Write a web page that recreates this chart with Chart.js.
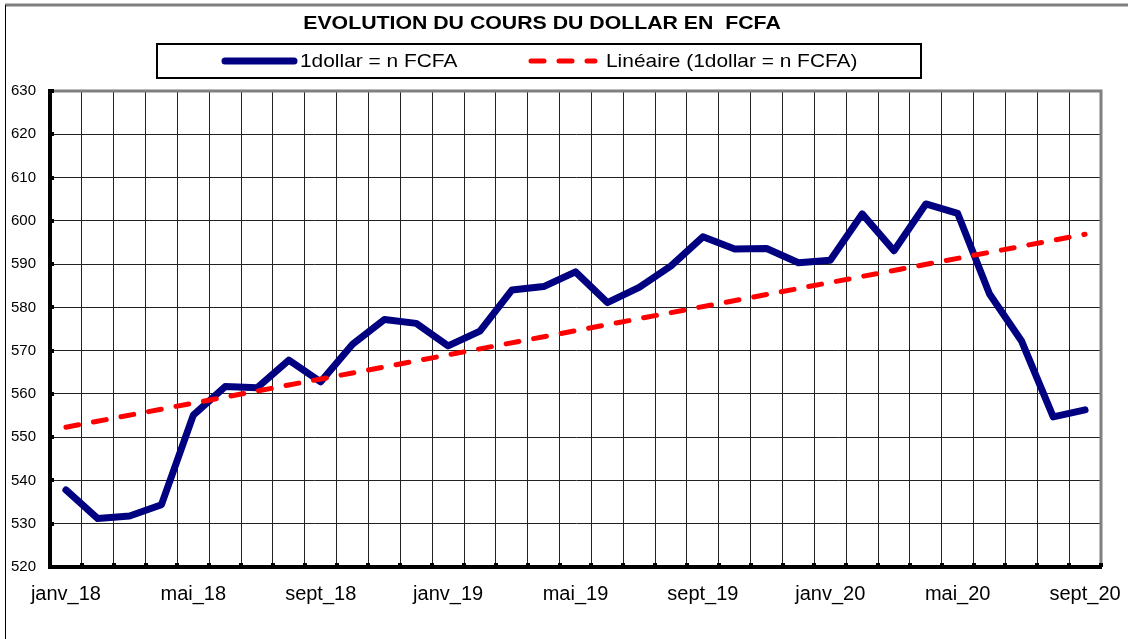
<!DOCTYPE html>
<html>
<head>
<meta charset="utf-8">
<script src="https://cdn.jsdelivr.net/npm/chart.js@4"></script>
<style>
    html, body { margin: 0; padding: 0; background: #fff; }
    #wrap { width: 1128px; height: 639px; position: relative; }
</style>
</head>
<body>
<div id="wrap"><canvas id="dollar"></canvas></div>
<script>
// Months, janv_18 .. sept_20
const MONTHS = [
    'janv_18', 'févr_18', 'mars_18', 'avr_18', 'mai_18', 'juin_18',
    'juil_18', 'août_18', 'sept_18', 'oct_18', 'nov_18', 'déc_18',
    'janv_19', 'févr_19', 'mars_19', 'avr_19', 'mai_19', 'juin_19',
    'juil_19', 'août_19', 'sept_19', 'oct_19', 'nov_19', 'déc_19',
    'janv_20', 'févr_20', 'mars_20', 'avr_20', 'mai_20', 'juin_20',
    'juil_20', 'août_20', 'sept_20'
];

// 1 dollar = n FCFA
const RATE = [
    537.8, 531.2, 531.8, 534.4, 555.1, 561.7, 561.4, 567.8, 562.8,
    571.5, 577.2, 576.3, 571.1, 574.5, 584.0, 584.8, 588.2, 581.1,
    584.6, 589.6, 596.3, 593.5, 593.6, 590.3, 590.9, 601.6, 593.1,
    603.9, 601.7, 583.1, 572.3, 554.7, 556.3
];

// Linear trend, end points
const TREND_MONTHS = ['janv_18', 'sept_20'];
const TREND_VALUES = [552.3, 596.9];

const Y_MIN = 520;
const Y_MAX = 630;
const Y_STEP = 10;

const TITLE = 'EVOLUTION DU COURS DU DOLLAR EN  FCFA';
const SERIES_NAME = '1dollar = n FCFA';
const TREND_NAME = 'Linéaire (1dollar = n FCFA)';

const NAVY = '#000080';
const RED  = '#FF0000';
const FONT = "'Liberation Sans', Arial, sans-serif";

// frame, title, legend box, gray top/right plot border, inside tick marks
const decor = {
    id: 'decor',
    beforeDatasetsDraw(chart) {
        const ctx = chart.ctx;
        const a = chart.chartArea;
        ctx.save();
        // gray top + right border of plot area
        ctx.strokeStyle = '#808080';
        ctx.lineWidth = 3;
        ctx.beginPath();
        ctx.moveTo(a.left, a.top);
        ctx.lineTo(a.right, a.top);
        ctx.lineTo(a.right, a.bottom);
        ctx.stroke();

        // little tick marks on the inner side of the axes
        ctx.strokeStyle = '#000';
        ctx.lineWidth = 4;
        const xs = chart.scales.x;
        const half = (xs.getPixelForValue(1) - xs.getPixelForValue(0)) / 2;
        ctx.beginPath();
        for (let i = 0; i <= MONTHS.length; i++) {
            const px = Math.round(xs.getPixelForValue(i) - half);
            ctx.moveTo(px, a.bottom);
            ctx.lineTo(px, a.bottom - 4);
        }
        const ys = chart.scales.y;
        for (let v = Y_MIN; v <= Y_MAX; v += Y_STEP) {
            const py = Math.round(ys.getPixelForValue(v));
            ctx.moveTo(a.left, py);
            ctx.lineTo(a.left + 4, py);
        }
        ctx.stroke();
        ctx.restore();
    },
    afterDraw(chart) {
        const ctx = chart.ctx;
        ctx.save();
        // outer frame
        ctx.strokeStyle = '#808080';
        ctx.lineWidth = 3;
        ctx.beginPath();
        ctx.moveTo(5, 5);
        ctx.lineTo(1128, 5);
        ctx.stroke();
        ctx.strokeStyle = '#000';
        ctx.lineWidth = 1;
        ctx.beginPath();
        ctx.moveTo(5.5, 5);
        ctx.lineTo(5.5, 639);
        ctx.stroke();

        // title
        ctx.fillStyle = '#000';
        ctx.textBaseline = 'middle';
        ctx.textAlign = 'center';
        ctx.font = 'bold 19px ' + FONT;
        ctx.save();
        ctx.translate(542, 24);
        ctx.scale(1.12, 1);
        ctx.fillText(TITLE, 0, 0);
        ctx.restore();

        // legend box
        ctx.lineWidth = 2;
        ctx.strokeStyle = '#000';
        ctx.strokeRect(157, 44, 764, 34);

        ctx.lineCap = 'round';
        ctx.strokeStyle = NAVY;
        ctx.lineWidth = 7;
        ctx.beginPath();
        ctx.moveTo(225, 61);
        ctx.lineTo(294, 61);
        ctx.stroke();

        ctx.strokeStyle = RED;
        ctx.lineWidth = 5;
        ctx.setLineDash([13, 15]);
        ctx.beginPath();
        ctx.moveTo(531, 61);
        ctx.lineTo(595, 61);
        ctx.stroke();
        ctx.setLineDash([]);

        ctx.textAlign = 'left';
        ctx.font = '19px ' + FONT;
        ctx.save();
        ctx.translate(300, 62);
        ctx.scale(1.1, 1);
        ctx.fillText(SERIES_NAME, 0, 0);
        ctx.restore();
        ctx.save();
        ctx.translate(606, 62);
        ctx.scale(1.1, 1);
        ctx.fillText(TREND_NAME, 0, 0);
        ctx.restore();
        ctx.restore();
    }
};

window.onload = () => {
    new Chart(document.getElementById('dollar'), {
        type: 'line',
        data: {
            labels: MONTHS,
            datasets: [
                {
                    label: SERIES_NAME,
                    data: RATE,
                    borderColor: NAVY,
                    borderWidth: 7,
                    pointRadius: 0,
                    tension: 0,
                    borderJoinStyle: 'round',
                    borderCapStyle: 'round',
                    order: 2
                },
                {
                    label: TREND_NAME,
                    data: TREND_MONTHS.map((m, i) => ({ x: m, y: TREND_VALUES[i] })),
                    borderColor: RED,
                    borderWidth: 5,
                    borderDash: [13, 15],
                    borderCapStyle: 'round',
                    pointRadius: 0,
                    order: 1
                }
            ]
        },
        options: {
            responsive: true,
            maintainAspectRatio: false,
            animation: false,
            layout: { padding: { top: 91, right: 27, left: 0, bottom: 0 } },
            plugins: {
                legend: { display: false },
                title: { display: false },
                tooltip: { enabled: false }
            },
            scales: {
                x: {
                    type: 'category',
                    offset: true,
                    grid: { offset: true, color: '#222', lineWidth: 1, drawTicks: false },
                    border: { display: true, color: '#000', width: 4 },
                    ticks: {
                        autoSkip: false,
                        maxRotation: 0,
                        padding: 15,
                        color: '#000',
                        font: { family: FONT, size: 20 },
                        callback: (v, i) => i % 4 === 0 ? MONTHS[i] : ''
                    },
                    afterFit: s => {
                        s.height = 72;
                        s.paddingLeft = 0;
                        s.paddingRight = 0;
                    }
                },
                y: {
                    min: Y_MIN,
                    max: Y_MAX,
                    grid: { color: '#222', lineWidth: 1, drawTicks: false },
                    border: { display: true, color: '#000', width: 4 },
                    ticks: {
                        stepSize: Y_STEP,
                        padding: 14,
                        color: '#000',
                        font: { family: FONT, size: 15 }
                    },
                    afterFit: s => {
                        s.width = 50;
                        s.paddingTop = 0;
                        s.paddingBottom = 0;
                    }
                }
            }
        },
        plugins: [decor]
    });
}
</script>
</body>
</html>
